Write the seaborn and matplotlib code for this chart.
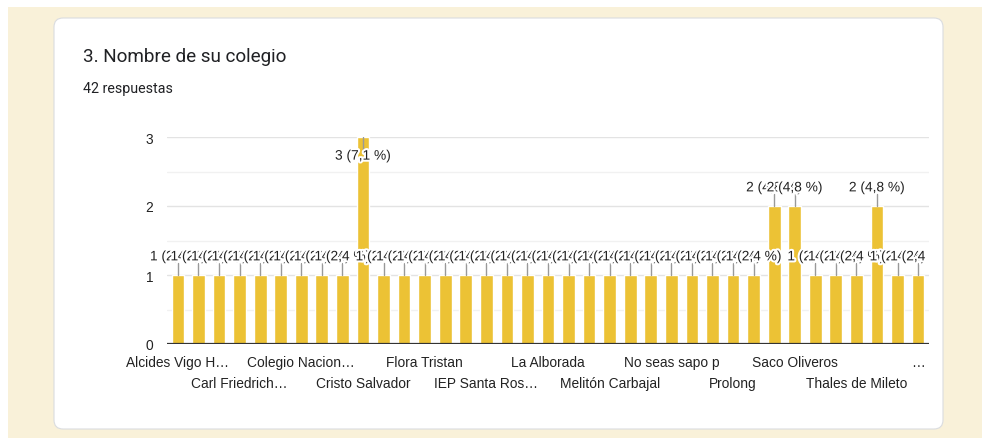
import matplotlib
matplotlib.use("Agg")
import matplotlib.pyplot as plt
import matplotlib.patheffects as pe
from matplotlib.patches import FancyBboxPatch, Rectangle
from matplotlib.transforms import Bbox, TransformedBbox
import numpy as np
import pandas as pd
import seaborn as sns

# Responses per school (alphabetical order, 37 schools)
counts = [1, 1, 1, 1, 1, 1, 1, 1, 1, 3,
          1, 1, 1, 1, 1, 1, 1, 1, 1, 1,
          1, 1, 1, 1, 1, 1, 1, 1, 1, 2,
          2, 1, 1, 1, 2, 1, 1]
total_responses = 42

# Only every third school name fits under the axis
tick_positions = [0, 3, 6, 9, 12, 15, 18, 21, 24, 27, 30, 33, 36]
tick_names = ["Alcides Vigo H…", "Carl Friedrich…", "Colegio Nacion…",
              "Cristo Salvador", "Flora Tristan", "IEP Santa Ros…",
              "La Alborada", "Melitón Carbajal", "No seas sapo p",
              "Prolong", "Saco Oliveros", "Thales de Mileto", "…"]

title = "3. Nombre de su colegio"
subtitle = "42 respuestas"

BAR = "#ECC235"
CREAM = "#F9F1D9"
TEXT = "#222222"

sns.set_theme(style="white")
plt.rcParams["font.family"] = ["Liberation Sans", "DejaVu Sans"]

W, H = 982, 439
fig = plt.figure(figsize=(W / 100, H / 100), dpi=100)
fig.patch.set_facecolor("white")

# page background and card
inch = fig.dpi_scale_trans
fig.patches.append(Rectangle((0.08, 0.0), 9.74, 4.31, transform=inch,
                             facecolor=CREAM, edgecolor="none", zorder=0))
fig.patches.append(FancyBboxPatch((0.54, 0.09), 8.89, 4.11,
                                  boxstyle="round,pad=0,rounding_size=0.09",
                                  transform=inch, facecolor="white",
                                  edgecolor="#DADCE0", linewidth=0.8, zorder=1))

fig.text(83 / W, 1 - 57.5 / H, title, fontsize=13.6, color="#202124",
         family=["Roboto", "DejaVu Sans"], va="center", ha="left")
fig.text(83 / W, 1 - 89 / H, subtitle, fontsize=10.3, color="#202124",
         family=["Roboto", "DejaVu Sans"], va="center", ha="left")

ax = fig.add_axes([167 / W, 1 - 345 / H, (929 - 167) / W, (345 - 138) / H])
ax.set_zorder(2)
ax.patch.set_alpha(0)

df = pd.DataFrame({"colegio": list(range(len(counts))), "respuestas": counts})
sns.barplot(data=df, x="colegio", y="respuestas", color=BAR, saturation=1,
            width=0.62, ax=ax, zorder=3)

ax.set_xlim(-0.53, len(counts) - 0.47)
ax.set_ylim(0, 3)

# grid: integer lines and lighter half-step lines
for y in np.arange(0.5, 3.01, 0.5):
    ax.axhline(y, color="#E3E3E3" if float(y).is_integer() else "#F1F1F1",
               linewidth=1, zorder=1)
ax.axhline(0, color="#333333", linewidth=1.6, zorder=4)

ax.set_yticks([0, 1, 2, 3])
ax.set_yticklabels(["0", "1", "2", "3"], fontsize=9.9, color=TEXT)
ax.set_xticks(tick_positions)
ax.set_xticklabels([n if i % 2 == 0 else "\n" + n for i, n in enumerate(tick_names)],
                   fontsize=9.9, color=TEXT, linespacing=1.6)
ax.tick_params(axis="both", length=0)
ax.tick_params(axis="x", pad=8)
ax.tick_params(axis="y", pad=10)
ax.set_xlabel("")
ax.set_ylabel("")
for s in ax.spines.values():
    s.set_visible(False)

# annotations are clipped at the right edge of the chart area
clip = TransformedBbox(Bbox.from_extents(0, 0, 927, H), fig.dpi_scale_trans.frozen().scale(1 / 100))

# value annotations with leader lines
ymax = 3
halo = [pe.Stroke(linewidth=3, foreground="white"), pe.Normal()]
for i, c in enumerate(counts):
    pct = f"{c / total_responses * 100:.1f}".replace(".", ",")
    label = f"{c} ({pct} %)"
    if c + 0.27 > ymax - 0.1:
        ly = c - 0.27
        ax.plot([i, i], [c, ly + 0.09], color="#999999", lw=1, zorder=5)
    else:
        ly = c + 0.27
        ax.plot([i, i], [c, ly - 0.09], color="#999999", lw=1, zorder=5)
    t = ax.text(i, ly, label, ha="center", va="center", fontsize=9.9, color=TEXT,
                path_effects=halo, zorder=6)
    t.set_clip_on(True)
    t.set_clip_box(clip)

fig.savefig("out.png", dpi=100)
